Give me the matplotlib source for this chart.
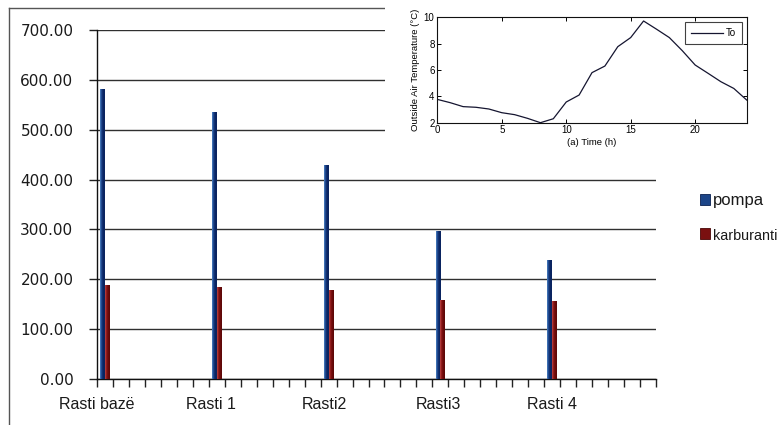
import numpy as np
import matplotlib
matplotlib.use("Agg")
import matplotlib.pyplot as plt
from matplotlib.colors import LinearSegmentedColormap
from matplotlib.lines import Line2D
from matplotlib.patches import Rectangle
from matplotlib.ticker import FormatStrFormatter

# ---- main bar chart data ----
cases = ["Rasti bazë", "Rasti 1", "Rasti2", "Rasti3", "Rasti 4"]
pompa = [581, 536, 429, 297, 239]
karburanti = [188, 185, 178, 158, 156]
series_names = ["pompa", "karburanti"]
y_ticks = [0, 100, 200, 300, 400, 500, 600, 700]

# ---- inset: outside air temperature over the day ----
hours = list(range(25))
temp_out = [3.77, 3.52, 3.22, 3.17, 3.04, 2.76, 2.61, 2.33, 2.00, 2.30,
            3.57, 4.10, 5.80, 6.30, 7.77, 8.46, 9.72, 9.10, 8.46, 7.47,
            6.38, 5.75, 5.11, 4.60, 3.72]
inset_xticks = [0, 5, 10, 15, 20]
inset_yticks = [2, 4, 6, 8, 10]

W, H = 777, 425
fig = plt.figure(figsize=(W / 100, H / 100), dpi=100)


def fx(px):
    return px / W


def fy(py):
    return 1 - py / H


# category axis: 35 slots, one case every 7 slots
n_slots = 35
slot_step = 7
bar_w = 0.3

ax = fig.add_axes([fx(97), fy(379), fx(656) - fx(97), fy(30) - fy(379)])
xs = np.arange(len(cases)) * slot_step + 0.5

b1 = ax.bar(xs - bar_w / 2, pompa, width=bar_w, color="#0c2c6a", zorder=3)
b2 = ax.bar(xs + bar_w / 2, karburanti, width=bar_w, color="#6e0c0c", zorder=3)


def shade_bars(ax, bars, colors):
    cmap = LinearSegmentedColormap.from_list("shade", colors)
    grad = np.linspace(0, 1, 64).reshape(1, -1)
    for b in bars:
        x0, y0 = b.get_x(), b.get_y()
        w, h = b.get_width(), b.get_height()
        im = ax.imshow(grad, cmap=cmap, extent=(x0, x0 + w, y0, y0 + h),
                       aspect="auto", zorder=3.5, interpolation="bilinear")
        im.set_clip_path(b)


shade_bars(ax, b1, ["#4f86c6", "#1a3f86", "#0a2460", "#0a2460"])
shade_bars(ax, b2, ["#c04848", "#8a1616", "#6a0a0a", "#5a0808"])

ax.set_yticks(y_ticks)
ax.yaxis.set_major_formatter(FormatStrFormatter("%.2f"))
ax.yaxis.grid(True, color="#303030", lw=1.0, zorder=1)
ax.set_axisbelow(True)

# category labels sit on the group boundaries, spread a little wider
label_pos = np.arange(len(cases)) * 7.12
ax.xaxis.remove_overlapping_locs = False
ax.set_xticks(np.arange(0, n_slots + 1), minor=True)
ax.set_xticks(label_pos)
ax.set_xticklabels(cases, fontfamily="Liberation Sans", fontsize=11.5,
                   color="#1a1a1a")
ax.set_xlim(0, n_slots)
ax.set_ylim(0, 700)
ax.tick_params(axis="x", which="major", length=0, pad=13)
ax.tick_params(axis="x", which="minor", direction="out", length=6,
               width=1, color="#222222")
ax.tick_params(axis="y", direction="out", length=6, width=1,
               color="#222222", pad=11, labelsize=11, labelcolor="#1a1a1a")

for s in ("top", "right"):
    ax.spines[s].set_visible(False)
for s in ("left", "bottom"):
    ax.spines[s].set_color("#111111")
    ax.spines[s].set_linewidth(1.0)

# outer frame of the chart area
fig.add_artist(Line2D([fx(9), fx(9)], [fy(8), 0], transform=fig.transFigure,
                      color="#555555", lw=1.0, zorder=0.5))
fig.add_artist(Line2D([fx(9), 1], [fy(8), fy(8)], transform=fig.transFigure,
                      color="#555555", lw=1.0, zorder=0.5))

# white panel that holds the temperature inset
fig.add_artist(Rectangle((fx(385), fy(160)), 1 - fx(385), 1 - fy(160),
                         transform=fig.transFigure, facecolor="white",
                         edgecolor="none", zorder=1.5))

# legend for the bars
handles = [Rectangle((0, 0), 1, 1, facecolor="#1c4588", edgecolor="#0a2050", lw=0.6),
           Rectangle((0, 0), 1, 1, facecolor="#7a1010", edgecolor="#4a0606", lw=0.6)]
leg = fig.legend(handles, series_names, loc="center left",
                 bbox_to_anchor=(fx(700), fy(218)), frameon=False,
                 prop={"family": "Liberation Sans", "size": 12},
                 handlelength=0.6, handleheight=0.6, handletextpad=0.2,
                 labelspacing=1.2, borderpad=0, borderaxespad=0)
leg.get_texts()[1].set_fontsize(10.4)
for t in leg.get_texts():
    t.set_color("#1a1a1a")

# ---- inset axes ----
ax2 = fig.add_axes([fx(437.3), fy(122.7), fx(746.7) - fx(437.3),
                    fy(17.3) - fy(122.7)], zorder=3)
ax2.plot(hours, temp_out, color="#151530", lw=0.9, label="To")
ax2.set_xlim(0, 24)
ax2.set_ylim(2, 10)
ax2.set_xticks(inset_xticks)
ax2.set_yticks(inset_yticks)
ax2.tick_params(direction="in", length=3, width=0.7, labelsize=7, pad=2,
                top=True, right=True)
for s in ax2.spines.values():
    s.set_linewidth(0.8)
    s.set_color("#111111")
for lab in ax2.get_xticklabels() + ax2.get_yticklabels():
    lab.set_fontfamily("Liberation Sans")
ax2.set_xlabel("(a) Time (h)", fontsize=6.8, fontfamily="Liberation Sans",
               labelpad=2)
ax2.set_ylabel("Outside Air Temperature (°C)", fontsize=6.8,
               fontfamily="Liberation Sans", labelpad=3)
leg2 = ax2.legend(loc="upper right", frameon=True, fancybox=False,
                  handlelength=3.3, handletextpad=0.3, borderpad=0.6,
                  borderaxespad=0.5, prop={"family": "Liberation Sans", "size": 7})
leg2.get_frame().set_edgecolor("#111111")
leg2.get_frame().set_linewidth(0.8)

fig.savefig("out.png", dpi=100)
